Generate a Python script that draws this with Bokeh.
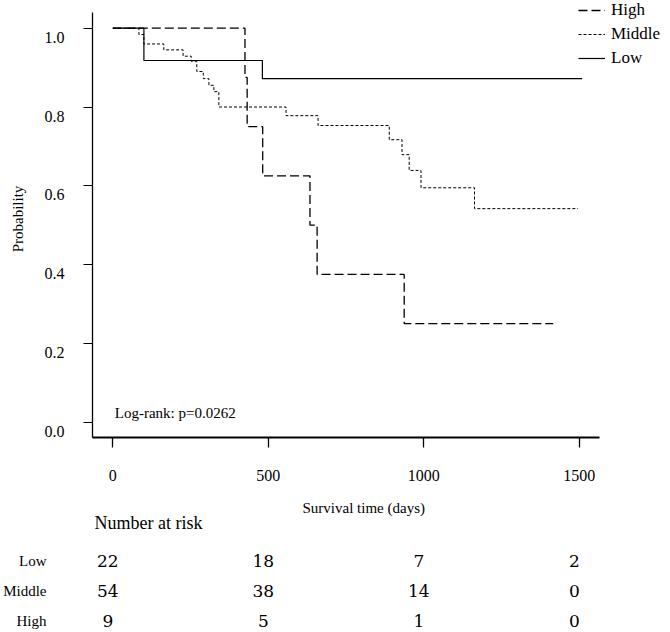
from bokeh.plotting import figure
from bokeh.models import (Range1d, LinearAxis, FixedTicker, Legend, LegendItem,
                          ColumnDataSource, PrintfTickFormatter)
from bokeh.layouts import column
from bokeh.core.properties import value
from bokeh.embed import file_html
from bokeh.resources import INLINE

# ---------------- data ----------------
high_days = [0, 425, 432, 482, 634, 657, 937, 1416]
high_surv = [1.0, 0.875, 0.75, 0.625, 0.5, 0.375, 0.25, 0.25]
mid_days = [0, 84, 100, 164, 226, 252, 270, 291, 309, 325, 341, 557, 660, 889, 930, 953, 991, 1163, 1496]
mid_surv = [1.0, 0.984, 0.960, 0.945, 0.929, 0.916, 0.890, 0.872, 0.855, 0.839, 0.800, 0.778, 0.753,
            0.717, 0.679, 0.639, 0.595, 0.542, 0.542]
low_days = [0, 100, 481, 1509]
low_surv = [1.0, 0.918, 0.872, 0.872]

x_ticks = [0, 500, 1000, 1500]
y_ticks = [0.0, 0.2, 0.4, 0.6, 0.8, 1.0]

groups = ["Low", "Middle", "High"]
risk_times = [0, 500, 1000, 1500]
risk_low = [22, 18, 7, 2]
risk_mid = [54, 38, 14, 0]
risk_high = [9, 5, 1, 0]

p_text = "Log-rank: p=0.0262"
x_title = "Survival time (days)"
y_title = "Probability"
table_title = "Number at risk"

# ---------------- layout / style ----------------
SERIF = "Liberation Serif"
INK = "black"
W = 668
FL = 92            # frame left
FH = 437           # frame height (frame top at 0)
H1 = 495           # main figure height
H2 = 135           # table figure height
PX_DAY = 0.311
PX_UNIT = 394.0
X0_PX, Y0_PX = 112.3, 421.7     # pixel of day 0 / probability 0
AXIS_RIGHT_PX, AXIS_TOP_PX = 599, 12
ROW0_PX, ROW_STEP = 560 - H1, 30.0   # first table row (table-figure px) and row pitch

x0 = -(X0_PX - FL) / PX_DAY
x1 = (W - X0_PX) / PX_DAY
y0 = -(FH - Y0_PX) / PX_UNIT
y1 = Y0_PX / PX_UNIT
x_bound = (AXIS_RIGHT_PX - X0_PX) / PX_DAY
y_bound = (Y0_PX - AXIS_TOP_PX) / PX_UNIT

p = figure(width=W, height=H1, x_range=Range1d(x0, x1), y_range=Range1d(y0, y1),
           output_backend="svg", toolbar_location=None,
           min_border_left=FL, min_border_right=0, min_border_top=0,
           min_border_bottom=H1 - FH)
p.outline_line_color = None
p.xgrid.visible = False
p.ygrid.visible = False
p.background_fill_color = "white"
p.border_fill_color = "white"

rh = p.step(high_days, high_surv, mode="after", line_color=INK, line_width=1.3, line_dash="9 4")
rm = p.step(mid_days, mid_surv, mode="after", line_color=INK, line_width=1.0, line_dash="3 2")
rl = p.step(low_days, low_surv, mode="after", line_color=INK, line_width=1.2)

p.text(x=[x_ticks[0]], y=[y_ticks[0]], text=[p_text], text_font=value(SERIF),
       text_font_size="15px", text_baseline="bottom", text_align="left",
       x_offset=2, y_offset=-1, text_color=INK)

# x axis
xa = p.xaxis[0]
xa.ticker = FixedTicker(ticks=x_ticks)
xa.bounds = (x0, x_bound)
xa.major_tick_out = 10
xa.major_tick_in = 0
xa.minor_tick_line_color = None
xa.axis_line_width = 2
xa.axis_line_color = INK
xa.major_tick_line_color = INK
xa.major_tick_line_width = 1.3
xa.major_label_text_font = SERIF
xa.major_label_text_font_size = "16px"
xa.major_label_text_color = INK
xa.major_label_standoff = 22

# y axis (ticks only)
ya = p.yaxis[0]
ya.ticker = FixedTicker(ticks=y_ticks)
ya.bounds = (y0, y_bound)
ya.major_tick_out = 9
ya.major_tick_in = 0
ya.minor_tick_line_color = None
ya.axis_line_width = 1.3
ya.axis_line_color = INK
ya.major_tick_line_color = INK
ya.major_tick_line_width = 1.2
ya.major_label_text_font_size = "0px"
ya.major_label_standoff = 0

# y labels, drawn slightly below their ticks
d = 9 / PX_UNIT
p.extra_y_ranges = {"lab": Range1d(y0 + d, y1 + d)}
lab = LinearAxis(y_range_name="lab", ticker=FixedTicker(ticks=y_ticks),
                 formatter=PrintfTickFormatter(format="%.1f"),
                 axis_line_color=None, major_tick_line_color=None, minor_tick_line_color=None,
                 major_tick_out=0, major_tick_in=0, major_label_standoff=19,
                 major_label_text_font=SERIF, major_label_text_font_size="16px",
                 major_label_text_color=INK,
                 axis_label=y_title, axis_label_text_font=SERIF, axis_label_text_color=INK,
                 axis_label_text_font_size="15px", axis_label_text_font_style="normal",
                 axis_label_standoff=16)
p.add_layout(lab, "left")

legend = Legend(items=[LegendItem(label="High", renderers=[rh]),
                       LegendItem(label="Middle", renderers=[rm]),
                       LegendItem(label="Low", renderers=[rl])],
                location=(578 - FL, FH - 68), label_text_font=SERIF, label_text_color=INK,
                label_text_font_size="17px", glyph_width=27, glyph_height=20,
                label_height=20, label_standoff=6, padding=0, spacing=4, margin=0,
                background_fill_alpha=0, border_line_alpha=0)
p.add_layout(legend)

# ---------------- x title + number at risk table ----------------
row_idx = list(range(len(groups)))
t_top = -ROW0_PX / ROW_STEP
t_bottom = (H2 - ROW0_PX) / ROW_STEP
t = figure(width=W, height=H2, x_range=p.x_range, y_range=Range1d(t_bottom, t_top),
           x_axis_location=None, output_backend="svg", toolbar_location=None,
           min_border_left=FL, min_border_right=0, min_border_top=0, min_border_bottom=0)
t.xgrid.visible = False
t.ygrid.visible = False
t.outline_line_color = None
t.background_fill_color = "white"
t.border_fill_color = "white"
ty = t.yaxis[0]
ty.ticker = FixedTicker(ticks=row_idx)
ty.major_label_overrides = {i: g for i, g in zip(row_idx, groups)}
ty.axis_line_color = None
ty.major_tick_line_color = None
ty.minor_tick_line_color = None
ty.major_tick_out = 0
ty.major_tick_in = 0
ty.major_label_standoff = 46
ty.major_label_text_font = SERIF
ty.major_label_text_font_size = "15px"
ty.major_label_text_color = INK

xs, ys, txt = [], [], []
for i, vals in zip(row_idx, [risk_low, risk_mid, risk_high]):
    for tm, v in zip(risk_times, vals):
        xs.append(tm)
        ys.append(i)
        txt.append(str(v))
t.text(x="x", y="y", text="t", source=ColumnDataSource(dict(x=xs, y=ys, t=txt)),
       text_font=value("DejaVu Serif"), text_font_size="17px", text_align="center",
       text_baseline="middle", x_offset=-5, text_color=INK)

# headings above the first row
t.text(x=[risk_times[0]], y=[row_idx[0]], text=[table_title], text_font=value(SERIF),
       text_font_size="18px", text_align="left", text_baseline="middle",
       x_offset=94 - X0_PX, y_offset=-38, text_color=INK)
t.text(x=[risk_times[0]], y=[row_idx[0]], text=[x_title], text_font=value(SERIF),
       text_font_size="15px", text_align="left", text_baseline="middle",
       x_offset=302 - X0_PX, y_offset=-53, text_color=INK)

layout = column(p, t, spacing=0)
open("out.html", "w").write(file_html(layout, INLINE))
